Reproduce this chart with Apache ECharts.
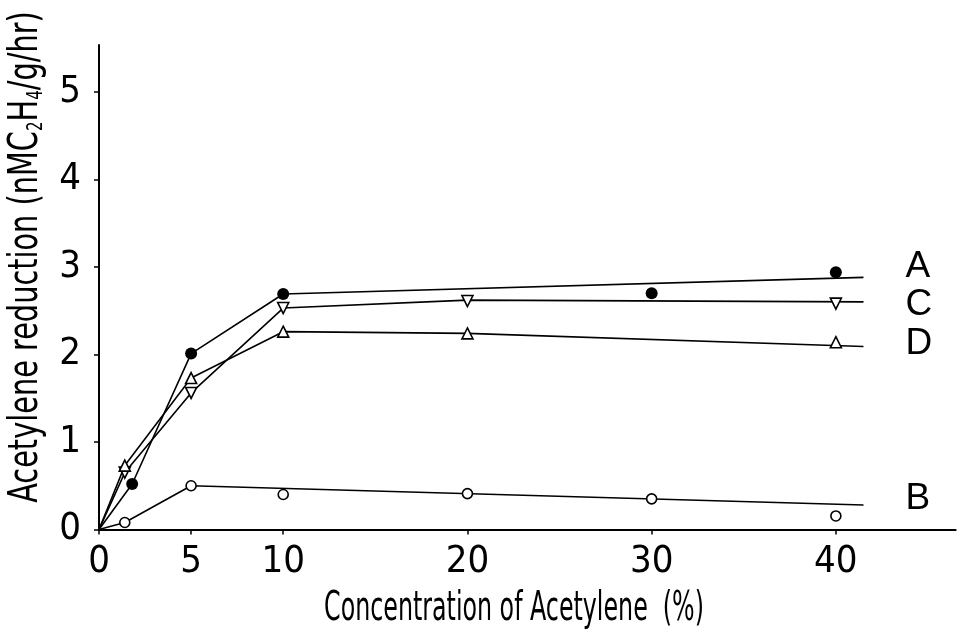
<!DOCTYPE html>
<html>
<head>
<meta charset="utf-8">
<script src="https://cdn.jsdelivr.net/npm/echarts@6/dist/echarts.min.js"></script>
<style>
  html, body { margin: 0; padding: 0; background: #fff; }
  #chart { width: 970px; height: 640px; }
</style>
</head>
<body>
<div id="chart"></div>
<script>
// Acetylene concentration (%) and measured reduction rates per treatment
const xTicks = [0, 5, 10, 20, 30, 40];
const yTicks = [0, 1, 2, 3, 4, 5];

const concA = [1.8, 5, 10, 30, 40];
const obsA  = [0.52, 2.01, 2.69, 2.70, 2.94];
const concB = [1.4, 5, 10, 20, 30, 40];
const obsB  = [0.08, 0.50, 0.40, 0.41, 0.35, 0.155];
const concC = [1.4, 5, 10, 20, 40];
const obsC  = [0.65, 1.56, 2.53, 2.61, 2.58];
const concD = [1.4, 5, 10, 20, 40];
const obsD  = [0.73, 1.73, 2.26, 2.24, 2.14];

// Drawn response curves (vertices of each fitted line)
const curveXA = [0, 1.8, 5, 10, 41.5];
const curveA  = [0, 0.52, 2.01, 2.69, 2.88];
const curveXB = [0, 1.4, 5, 41.5];
const curveB  = [0, 0.08, 0.50, 0.28];
const curveXC = [0, 1.4, 5, 10, 20, 41.5];
const curveC  = [0, 0.65, 1.56, 2.53, 2.62, 2.60];
const curveXD = [0, 1.4, 5, 10, 20, 41.5];
const curveD  = [0, 0.73, 1.73, 2.26, 2.24, 2.09];

const xTitle = 'Concentration of Acetylene  (%)';
const yTitle = 'Acetylene reduction (nMC{s|2}H{s|4}/g/hr)';

const FONT = "'DejaVu Sans Condensed', 'Liberation Sans Narrow', 'Liberation Sans', sans-serif";
const zip = (xs, ys) => xs.map((x, i) => [x, ys[i]]);

function curve(name, xs, ys, offsetY) {
  return {
    name: name,
    type: 'line',
    data: zip(xs, ys),
    showSymbol: false,
    symbol: 'none',
    silent: true,
    z: 2,
    lineStyle: { color: '#000', width: 1.6 },
    endLabel: {
      show: true,
      formatter: name,
      distance: 42,
      offset: [0, offsetY],
      color: '#000',
      fontSize: 37,
      fontFamily: "'Liberation Sans', Arial, sans-serif"
    }
  };
}

function points(xs, ys, symbol, filled, rotate, size) {
  return {
    type: 'scatter',
    data: zip(xs, ys),
    symbol: symbol,
    symbolSize: size,
    symbolRotate: rotate,
    z: 5,
    itemStyle: {
      color: filled ? '#000' : '#fff',
      borderColor: '#000',
      borderWidth: filled ? 0 : 1.6,
      opacity: 1
    }
  };
}

const chart = echarts.init(document.getElementById('chart'), null, { renderer: 'canvas' });
chart.setOption({
  animation: false,
  backgroundColor: '#fff',
  grid: { left: 99, right: 14.4, top: 45, bottom: 110.5, containLabel: false },
  // Axis titles in a tall, narrow lettering
  graphic: [
    {
      type: 'text',
      x: 514, y: 610,
      scaleX: 0.66,
      style: {
        text: xTitle, fill: '#000', fontSize: 40, fontFamily: FONT,
        textAlign: 'center', textVerticalAlign: 'middle'
      }
    },
    {
      type: 'text',
      x: 27, y: 257,
      rotation: Math.PI / 2,
      scaleX: 0.8,
      style: {
        text: yTitle, fill: '#000', fontSize: 40, fontFamily: FONT,
        textAlign: 'center', textVerticalAlign: 'middle',
        rich: { s: { fontSize: 21, fontFamily: FONT, fill: '#000', verticalAlign: 'bottom', lineHeight: 40 } }
      }
    }
  ],
  xAxis: {
    type: 'value',
    min: 0,
    max: 46.5,
    interval: 5,
    axisLine: { show: true, lineStyle: { color: '#000', width: 2 } },
    axisTick: { show: true, inside: false, length: 5, customValues: xTicks, lineStyle: { color: '#000', width: 1.5 } },
    axisLabel: { customValues: xTicks, color: '#000', fontSize: 38, fontFamily: FONT, margin: 14 },
    splitLine: { show: false }
  },
  yAxis: {
    type: 'value',
    min: 0,
    max: 5.535,
    interval: 1,
    axisLine: { show: true, lineStyle: { color: '#000', width: 2 } },
    axisTick: { show: true, inside: false, length: 5, customValues: yTicks, lineStyle: { color: '#000', width: 1.5 } },
    axisLabel: { customValues: yTicks, color: '#000', fontSize: 38, fontFamily: FONT, margin: 18 },
    splitLine: { show: false }
  },
  series: [
    curve('A', curveXA, curveA, -11),
    curve('C', curveXC, curveC, 3),
    curve('D', curveXD, curveD, -3),
    curve('B', curveXB, curveB, -6),
    points(concA, obsA, 'circle', true, 0, 12),
    points(concB, obsB, 'circle', false, 0, 10),
    points(concC, obsC, 'triangle', false, 180, 11),
    points(concD, obsD, 'triangle', false, 0, 11)
  ]
});
</script>
</body>
</html>
